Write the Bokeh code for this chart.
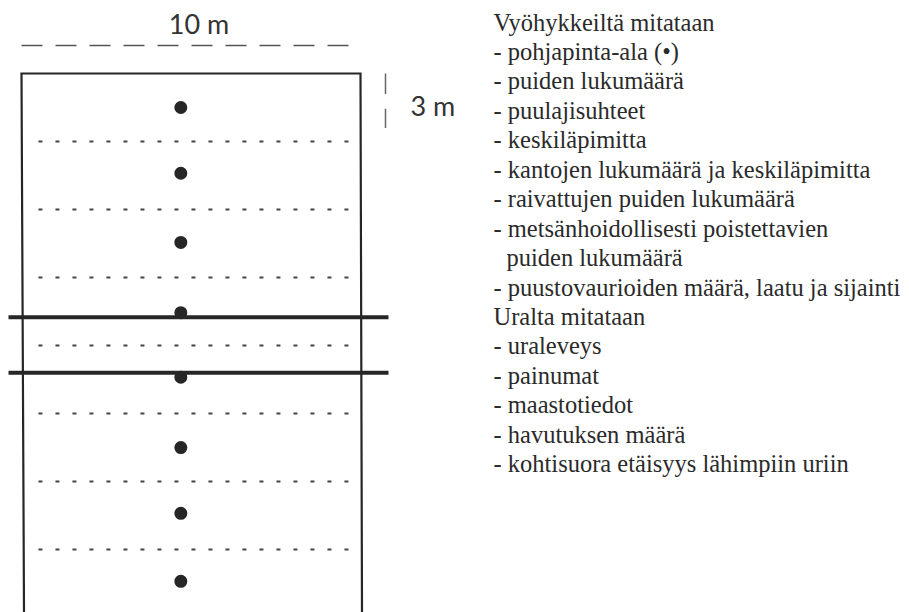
from bokeh.plotting import figure
from bokeh.models import Range1d
from bokeh.core.properties import value
from bokeh.embed import file_html
from bokeh.resources import INLINE

# ---- diagram data (metres) ----
plot_width_m = 10                                   # width of the sample strip
zone_edges_m = [3, 6, 9, 12, 15, 18, 21]            # dotted zone boundaries (every 3 m)
dot_x_m = 4.7                                       # basal-area sample points
dot_y_m = [1.5, 4.4, 7.45, 10.55, 13.4, 16.5, 19.4, 22.4]
track_edges_m = [10.75, 13.2]                       # strip road (ura) edges
scale_tick_m = [0.0, 2.4]                           # "3 m" bracket

label_width = "10 m"
label_zone = "3 m"
text_lines = [
    "Vyöhykkeiltä mitataan",
    "- pohjapinta-ala (•)",
    "- puiden lukumäärä",
    "- puulajisuhteet",
    "- keskiläpimitta",
    "- kantojen lukumäärä ja keskiläpimitta",
    "- raivattujen puiden lukumäärä",
    "- metsänhoidollisesti poistettavien",
    "puiden lukumäärä",
    "- puustovaurioiden määrä, laatu ja sijainti",
    "Uralta mitataan",
    "- uraleveys",
    "- painumat",
    "- maastotiedot",
    "- havutuksen määrä",
    "- kohtisuora etäisyys lähimpiin uriin",
]
text_indent = [0, 0, 0, 0, 0, 0, 0, 0, 13, 0, 0, 0, 0, 0, 0, 0]

# ---- layout: page pixel coordinates ----
X0, Y0 = 21.0, 73.0          # top-left corner of the strip
SX = 33.9                    # px per metre horizontally
SY = 22.67                   # px per metre vertically
def px(m): return X0 + m * SX
def py(m): return Y0 + m * SY

W, H = 909, 612
p = figure(width=W, height=H, x_range=Range1d(0, W), y_range=Range1d(H, 0),
           output_backend="svg", toolbar_location=None, min_border=0,
           x_axis_location=None, y_axis_location=None)
p.grid.visible = False
p.outline_line_color = None
p.background_fill_color = "white"
p.border_fill_color = "white"

ink = "#262626"

# top dashed dimension line
p.segment(x0=[px(0)], y0=[45], x1=[px(9.7)], y1=[45], line_color="#555555",
          line_width=1.5, line_dash="21 13")
p.text(x=[px(plot_width_m / 2) + 8], y=[23], text=[label_width], text_align="center",
       text_baseline="middle", text_font=value("Lato"), text_font_size="27px",
       text_color="#333333")

# strip outline (open at bottom)
bottom = H
p.line(x=[px(0) + 2.5, px(0), px(plot_width_m), px(plot_width_m) + 1.5],
       y=[bottom, py(0), py(0), bottom], line_color=ink, line_width=2.2, line_join="miter")

# dotted zone boundaries
n = len(zone_edges_m)
p.segment(x0=[px(0.5)] * n, y0=[py(m) for m in zone_edges_m],
          x1=[px(9.9)] * n, y1=[py(m) for m in zone_edges_m],
          line_color="#444444", line_width=2, line_dash="4 13")

# sample points
p.scatter(x=[px(dot_x_m)] * len(dot_y_m), y=[py(m) for m in dot_y_m], size=13,
          color=ink, line_color=None)

# strip-road edges
k = len(track_edges_m)
p.segment(x0=[8] * k, y0=[py(m) for m in track_edges_m],
          x1=[388] * k, y1=[py(m) for m in track_edges_m],
          line_color=ink, line_width=4)

# 3 m bracket
p.segment(x0=[385, 385], y0=[py(scale_tick_m[0]), py(1.55)],
          x1=[385, 385], y1=[py(0.9), py(scale_tick_m[1])],
          line_color="#666666", line_width=1.5)
p.text(x=[410], y=[105], text=[label_zone], text_align="left", text_baseline="middle",
       text_font=value("Lato"), text_font_size="27px", text_color="#333333")

# measurement list
tx = 493
ty = [21.5 + 29.45 * i for i in range(len(text_lines))]
p.text(x=[tx + d for d in text_indent], y=ty, text=text_lines, text_align="left",
       text_baseline="alphabetic", text_font=value("Liberation Serif"),
       text_font_size="24.5px", text_color="#2a2a2a")

open("out.html", "w").write(file_html(p, INLINE))
